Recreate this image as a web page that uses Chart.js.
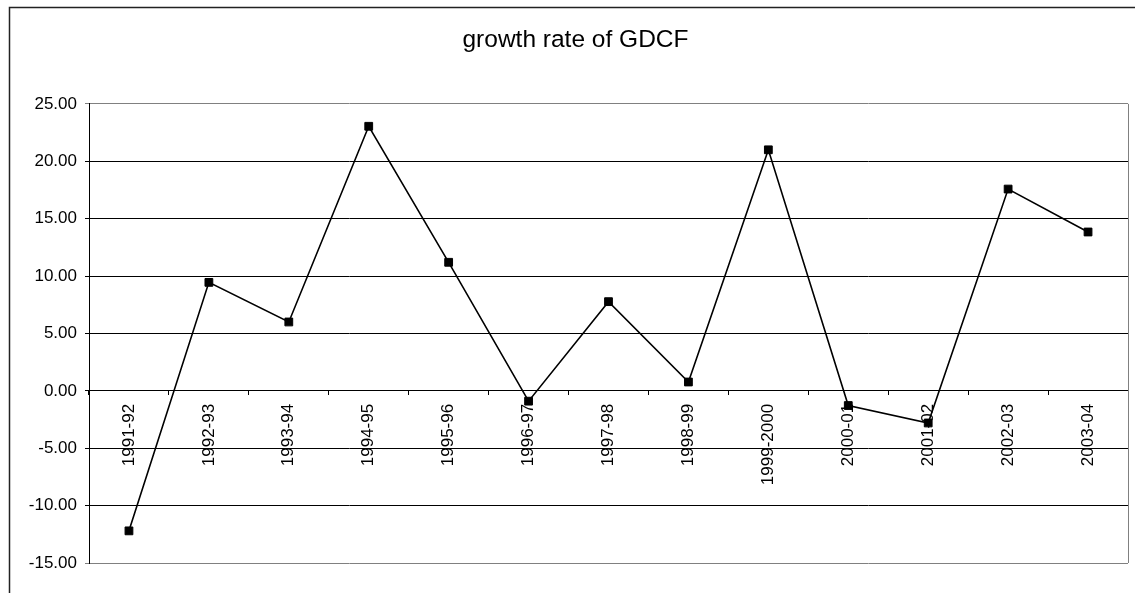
<!DOCTYPE html>
<html>
<head>
<meta charset="utf-8">
<title>growth rate of GDCF</title>
<script src="https://cdn.jsdelivr.net/npm/chart.js"></script>
<style>
  html, body { margin: 0; padding: 0; background: #fff; }
  #wrap { width: 1135px; height: 593px; }
</style>
</head>
<body>
<div id="wrap"><canvas id="chart" width="1135" height="593"></canvas></div>
<script>
// financial years on the category axis
const years = ['1991-92', '1992-93', '1993-94', '1994-95', '1995-96', '1996-97', '1997-98',
  '1998-99', '1999-2000', '2000-01', '2001-02', '2002-03', '2003-04'];

// growth rate (%) per year
const growthRate = [-12.2, 9.45, 6.0, 23.05, 11.2, -0.9, 7.77, 0.77, 21.0, -1.28, -2.8, 17.58, 13.84];

// value axis range and step
const yMin = -15;
const yMax = 25;
const yStep = 5;

const tickFont = { family: '"Liberation Sans", Arial, sans-serif', size: 17 };

// the thin frame round the whole chart object
const outerFrame = {
  id: 'outerFrame',
  beforeDraw(chart) {
    const ctx = chart.ctx;
    ctx.save();
    ctx.strokeStyle = '#222';
    ctx.lineWidth = 1.5;
    ctx.beginPath();
    ctx.moveTo(9.5, chart.height);
    ctx.lineTo(9.5, 7.5);
    ctx.lineTo(chart.width, 7.5);
    ctx.stroke();
    ctx.restore();
  },
  // grey right edge of the plot area
  afterDraw(chart) {
    const a = chart.chartArea;
    const ctx = chart.ctx;
    ctx.save();
    ctx.strokeStyle = '#808080';
    ctx.lineWidth = 1;
    ctx.beginPath();
    ctx.moveTo(Math.round(a.right) + 0.5, a.top);
    ctx.lineTo(Math.round(a.right) + 0.5, a.bottom);
    ctx.stroke();
    ctx.restore();
  }
};

const chart = new Chart(document.getElementById('chart'), {
  type: 'line',
  data: {
    labels: years,
    datasets: [{
      label: 'growth rate of GDCF',
      data: growthRate,
      borderColor: '#000',
      borderWidth: 1.6,
      pointStyle: 'rect',
      pointRadius: 5.5,
      pointBorderWidth: 1,
      pointBackgroundColor: '#000',
      pointBorderColor: '#000',
      tension: 0
    }]
  },
  options: {
    responsive: false,
    animation: false,
    layout: { padding: { left: 23, right: 7, top: 0, bottom: 30 } },
    plugins: {
      legend: { display: false },
      tooltip: { enabled: false },
      title: {
        display: true,
        text: 'growth rate of GDCF',
        color: '#000',
        font: { family: '"Liberation Sans", Arial, sans-serif', size: 24.5, weight: 'normal' },
        padding: { top: 25.5, bottom: 49 }
      }
    },
    scales: {
      x: {
        type: 'category',
        position: { y: 0 },
        offset: true,
        grid: {
          offset: true,
          drawOnChartArea: false,
          drawTicks: true,
          tickLength: 4,
          color: '#000'
        },
        border: { display: true, color: '#000', width: 1 },
        ticks: {
          autoSkip: false,
          minRotation: 90,
          maxRotation: 90,
          padding: 9,
          color: '#000',
          font: tickFont
        },
        afterFit(scale) { scale.height = 0; }
      },
      y: {
        min: yMin,
        max: yMax,
        grid: {
          color: ctx => (ctx.tick && (ctx.tick.value === yMin || ctx.tick.value === yMax)) ? '#808080' : '#000',
          lineWidth: 1,
          tickLength: 4
        },
        border: { display: true, color: '#000', width: 1 },
        ticks: {
          stepSize: yStep,
          padding: 8,
          color: '#000',
          font: tickFont,
          callback: v => Number(v).toFixed(2)
        },
        afterFit(scale) { scale.width = 66; }
      }
    }
  },
  plugins: [outerFrame]
});
</script>
</body>
</html>
